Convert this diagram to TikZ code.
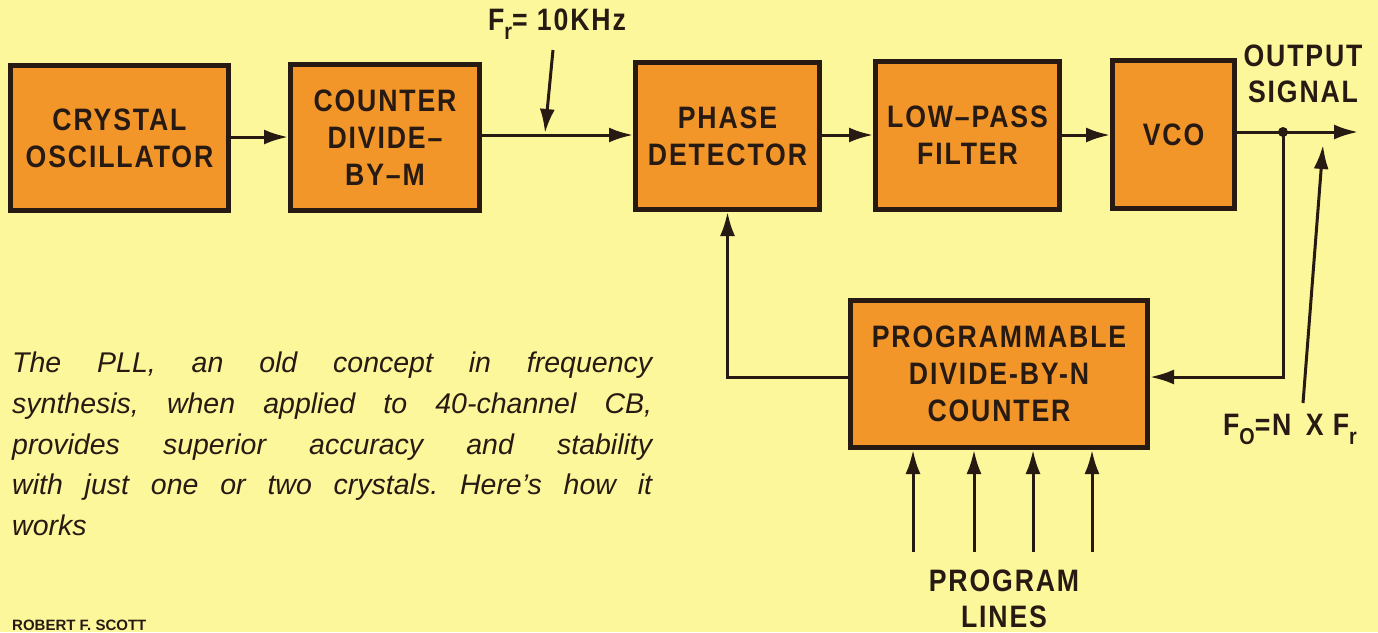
\documentclass[tikz,border=0pt]{standalone}
\usepackage{fontspec}
\setmainfont{Liberation Sans}
\newfontfamily\diagfont[FakeStretch=0.86,LetterSpace=6]{Liberation Sans}
\usetikzlibrary{arrows.meta}
\definecolor{paper}{RGB}{252,247,155}
\definecolor{boxorange}{RGB}{243,150,42}
\definecolor{ink}{RGB}{38,26,18}
\tikzset{
  blk/.style={draw=ink, line width=5pt, fill=boxorange, inner sep=0pt, align=center,
    text=ink, font=\diagfont\bfseries\fontsize{31}{37}\selectfont},
  conn/.style={draw=ink, line width=3pt, -{Latex[length=24pt,width=15pt]}},
  lbl/.style={inner sep=0pt, align=center, text=ink, font=\diagfont\bfseries\fontsize{31}{36}\selectfont}
}
\newcommand{\subtxt}[1]{\raisebox{-9pt}{\fontsize{23}{23}\selectfont #1}}
\begin{document}
\begin{tikzpicture}[x=1pt,y=-1pt]
\useasboundingbox (0,0) rectangle (1378,632);
\fill[paper] (0,0) rectangle (1378,632);

% blocks
\node[blk, minimum width=218pt, minimum height=145pt] (cry) at (119.5,138) {CRYSTAL\\OSCILLATOR};
\node[blk, minimum width=189pt, minimum height=146pt] (cnt) at (385,137.5) {COUNTER\\DIVIDE–\\BY–M};
\node[blk, minimum width=184pt, minimum height=147pt] (pd) at (727.5,136) {PHASE\\DETECTOR};
\node[blk, minimum width=184pt, minimum height=148pt] (lpf) at (967.5,135.5) {LOW–PASS\\FILTER};
\node[blk, minimum width=122pt, minimum height=148pt] (vco) at (1173.5,134.5) {VCO};
\node[blk, minimum width=297pt, minimum height=147pt] (prog) at (999,374) {PROGRAMMABLE\\DIVIDE-BY-N\\COUNTER};

% forward chain
\draw[conn] (cry.east |- 0,137) -- (cnt.west |- 0,137);
\draw[conn] (cnt.east |- 0,135) -- (pd.west |- 0,135);
\draw[conn] (pd.east |- 0,135) -- (lpf.west |- 0,135);
\draw[conn] (lpf.east |- 0,135) -- (vco.west |- 0,135);

% output
\coordinate (jn) at (1283,132);
\coordinate (out) at (1358,132);
\draw[conn] (vco.east |- jn) -- (out);
\fill[ink] (jn) circle (5pt);
\draw[conn] (jn) |- (prog.east |- 0,377);

% feedback to phase detector
\draw[conn] (prog.west |- 0,377) -| (pd.south);

% Fr pointer
\node[lbl] (fr) at (557,24) {F\subtxt{r}= 10KHz};
\coordinate (frs) at (553,50);
\coordinate (frt) at (545,133);
\draw[conn] (frs) -- (frt);

% output labels
\node[lbl] (outl) at (1303,74) {OUTPUT\\SIGNAL};
\node[lbl] (fo) at (1290,429) {F\subtxt{O}=N\, X F\subtxt{r}};
\coordinate (fos) at (1303,403);
\coordinate (fot) at (1323,145);
\draw[conn] (fos) -- (fot);

% program lines
\foreach \px/\nm in {913/p1,974/p2,1033/p3,1092/p4}{
  \coordinate (\nm) at (\px,552);
  \draw[conn] (\nm) -- (\nm |- prog.south);
}
\node[lbl] (pl) at (1004,599) {PROGRAM\\LINES};

% caption
\node[anchor=north west, inner sep=0pt, align=left, text=ink,
  font=\frenchspacing\fontsize{28.5}{40.7}\selectfont\itshape] (cap) at (12,352)
  {\makebox[640pt][s]{The PLL, an old concept in frequency}\\
   \makebox[640pt][s]{synthesis, when applied to 40-channel CB,}\\
   \makebox[640pt][s]{provides superior accuracy and stability}\\
   \makebox[640pt][s]{with just one or two crystals. Here’s how it}\\
   works};

% author
\node[anchor=south west, inner sep=0pt, text=ink, font=\bfseries\fontsize{15}{15}\selectfont] (auth) at (12,631) {ROBERT F. SCOTT};
\end{tikzpicture}
\end{document}
